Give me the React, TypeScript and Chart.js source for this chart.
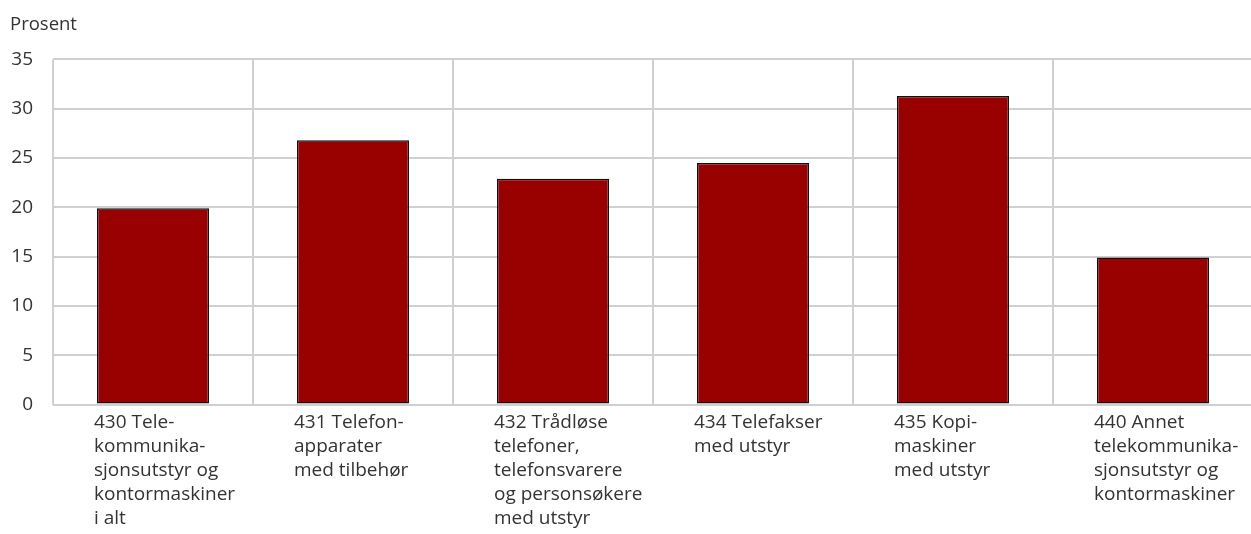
import React, { useEffect, useRef } from "react";
import { Chart, registerables } from "chart.js";

Chart.register(...registerables);

const categories: string[][] = [
  ["430 Tele-", "kommunika-", "sjonsutstyr og", "kontormaskiner", "i alt"],
  ["431 Telefon-", "apparater", "med tilbehør"],
  ["432 Trådløse", "telefoner,", "telefonsvarere", "og personsøkere", "med utstyr"],
  ["434 Telefakser", "med utstyr"],
  ["435 Kopi-", "maskiner", "med utstyr"],
  ["440 Annet", "telekommunika-", "sjonsutstyr og", "kontormaskiner"],
];

const values: number[] = [19.9, 26.8, 22.9, 24.5, 31.3, 14.9];

const yTicks: number[] = [0, 5, 10, 15, 20, 25, 30, 35];

const yTitle = "Prosent";

const FONT = "'Open Sans', 'Noto Sans', sans-serif";
const TEXT = "#333333";
const GRID = "#d0d0d0";

export default function App() {
  const ref = useRef<HTMLCanvasElement | null>(null);

  useEffect(() => {
    document.body.style.margin = "0";
    const canvas = ref.current;
    if (!canvas) return;
    const chart = new Chart(canvas, {
      type: "bar",
      data: {
        labels: categories,
        datasets: [
          {
            data: values,
            backgroundColor: "#990000",
            borderColor: "#111111",
            borderWidth: 1.5,
            borderSkipped: false,
            barPercentage: 0.56,
            categoryPercentage: 1,
          },
        ],
      },
      options: {
        animation: false,
        responsive: false,
        devicePixelRatio: 1,
        layout: { padding: { left: 10, right: 0, top: 0, bottom: 0 } },
        plugins: {
          legend: { display: false },
          tooltip: { enabled: false },
          title: {
            display: true,
            text: yTitle,
            align: "start",
            color: TEXT,
            font: { family: FONT, size: 18.5, weight: "normal", lineHeight: 1.2 },
            padding: { top: 14, bottom: 23.2 },
          },
        },
        scales: {
          x: {
            offset: true,
            border: { display: false },
            grid: {
              offset: true,
              color: GRID,
              lineWidth: 2,
              drawTicks: false,
            },
            ticks: {
              autoSkip: false,
              maxRotation: 0,
              minRotation: 0,
              align: "start",
              labelOffset: -59,
              padding: 6,
              color: TEXT,
              font: { family: FONT, size: 19, lineHeight: 1.27 },
            },
            afterFit: (scale: any) => {
              scale.height = 129.5;
              scale.paddingLeft = 0;
              scale.paddingRight = 0;
            },
          },
          y: {
            min: 0,
            max: 35,
            border: { display: false },
            grid: { color: GRID, lineWidth: 2, drawTicks: false },
            afterBuildTicks: (scale: any) => {
              scale.ticks = yTicks.map((v) => ({ value: v }));
            },
            ticks: {
              padding: 20,
              color: TEXT,
              font: { family: FONT, size: 19 },
            },
            afterFit: (scale: any) => {
              scale.width = 43;
              scale.paddingTop = 0;
              scale.paddingBottom = 0;
            },
          },
        },
      },
    });
    return () => chart.destroy();
  }, []);

  return (
    <div style={{ width: 1251, height: 534, overflow: "hidden", position: "relative" }}>
      <canvas ref={ref} width={1253} height={534} style={{ display: "block" }} />
    </div>
  );
}
